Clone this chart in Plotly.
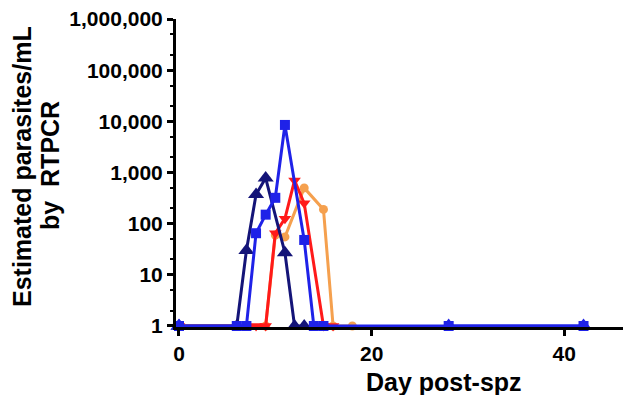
import plotly.graph_objects as go

# Data (day post-spz, estimated parasites/mL)
orange_days = [9, 10, 11, 13, 15, 16, 18]
orange_vals = [1, 60, 55, 500, 190, 1, 1]

red_days = [0, 8, 9, 10, 11, 12, 13, 15, 16]
red_vals = [1, 1, 1, 65, 125, 700, 250, 1, 1]

navy_days = [0, 6, 7, 8, 9, 11, 12, 13]
navy_vals = [1, 1, 30, 370, 780, 27, 1, 1]

blue_days = [0, 6, 7, 8, 9, 10, 11, 13, 14, 15, 28, 42]
blue_vals = [1, 1, 1, 65, 150, 320, 8500, 48, 1, 1, 1, 1]

ctrl_days = [0, None, 28, 42]
ctrl_vals = [1, None, 1, 1]

y_tickvals = [1, 10, 100, 1000, 10000, 100000, 1000000]
y_ticktext = ["1", "10", "100", "1,000", "10,000", "100,000", "1,000,000"]
x_tickvals = [0, 20, 40]

FONT = "Liberation Sans, Arial, sans-serif"

fig = go.Figure()
fig.add_trace(go.Scatter(x=orange_days, y=orange_vals, mode="lines+markers", cliponaxis=False,
                         line=dict(color="#F5A04E", width=3),
                         marker=dict(symbol="circle", size=9, color="#F5A04E")))
fig.add_trace(go.Scatter(x=red_days, y=red_vals, mode="lines+markers", cliponaxis=False,
                         line=dict(color="#FF1A1A", width=3),
                         marker=dict(symbol="triangle-down", size=11, color="#FF1A1A")))
fig.add_trace(go.Scatter(x=navy_days, y=navy_vals, mode="lines+markers", cliponaxis=False,
                         line=dict(color="#141478", width=3),
                         marker=dict(symbol="triangle-up", size=14, color="#141478")))
fig.add_trace(go.Scatter(x=blue_days, y=blue_vals, mode="lines+markers", cliponaxis=False,
                         line=dict(color="#1F22E8", width=3),
                         marker=dict(symbol="square", size=10, color="#1F22E8")))
fig.add_trace(go.Scatter(x=ctrl_days, y=ctrl_vals, mode="lines+markers", cliponaxis=False,
                         connectgaps=False,
                         line=dict(color="#1F22E8", width=3),
                         marker=dict(symbol="triangle-up", size=15, color="#1F22E8")))

fig.update_layout(
    width=623, height=395,
    margin=dict(l=176, r=0, t=19, b=68, autoexpand=False),
    paper_bgcolor="white", plot_bgcolor="white",
    showlegend=False,
    xaxis=dict(range=[-0.31, 46.1], tickmode="array", tickvals=x_tickvals,
               automargin=False,
               showgrid=False, zeroline=False, showline=True, linecolor="black",
               linewidth=3, ticks="outside", ticklen=6, tickwidth=2.5, tickcolor="black",
               tickfont=dict(family=FONT, size=21, color="black", weight="bold")),
    yaxis=dict(type="log", range=[-0.02, 6.0], tickmode="array",
               tickvals=y_tickvals, ticktext=y_ticktext, automargin=False,
               showgrid=False, zeroline=False, showline=True, linecolor="black",
               linewidth=3, ticks="outside", ticklen=6, tickwidth=2.5, tickcolor="black",
               minor=dict(ticks="outside", ticklen=3, tickwidth=1.5, tickcolor="black", showgrid=False),
               tickfont=dict(family=FONT, size=21, color="black", weight="bold")),
    annotations=[
        dict(text="Estimated parasites/mL", x=(22 - 176) / 447, y=(327 - 167) / 308,
             xref="paper", yref="paper", textangle=-90, showarrow=False,
             xanchor="center", yanchor="middle",
             font=dict(family=FONT, size=25, color="black", weight="bold")),
        dict(text="by  RTPCR", x=(50 - 176) / 447, y=(327 - 166) / 308,
             xref="paper", yref="paper", textangle=-90, showarrow=False,
             xanchor="center", yanchor="middle",
             font=dict(family=FONT, size=25, color="black", weight="bold")),
        dict(text="Day post-spz", x=(444 - 176) / 447, y=(327 - 382) / 308,
             xref="paper", yref="paper", showarrow=False,
             xanchor="center", yanchor="middle",
             font=dict(family=FONT, size=25, color="black", weight="bold")),
    ],
)

fig.write_html("out.html", config={"displayModeBar": False},
               post_script="document.body.style.margin='0';document.body.style.overflow='hidden';")
